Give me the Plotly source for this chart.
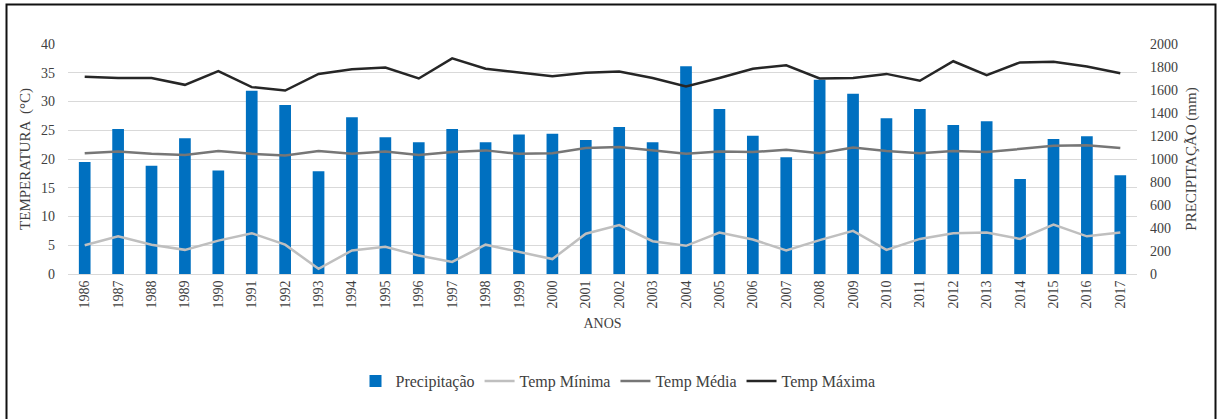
import plotly.graph_objects as go

anos = [str(a) for a in range(1986, 2018)]

precipitacao = [974, 1261, 942, 1180, 899, 1594, 1470, 893, 1363, 1189,
                1145, 1261, 1145, 1212, 1220, 1165, 1278, 1145, 1806, 1435,
                1203, 1015, 1690, 1568, 1354, 1435, 1296, 1328, 826, 1174,
                1197, 858]

temp_minima = [5.0, 6.55, 5.1, 4.2, 5.8, 7.1, 5.1, 0.9, 4.1, 4.75,
               3.2, 2.1, 5.1, 3.9, 2.6, 7.0, 8.5, 5.7, 4.9, 7.2,
               6.0, 4.1, 5.9, 7.5, 4.2, 6.1, 7.1, 7.2, 6.1, 8.6,
               6.55, 7.2]

temp_media = [21.0, 21.3, 20.9, 20.7, 21.4, 20.9, 20.6, 21.4, 20.9, 21.3,
              20.7, 21.2, 21.5, 20.9, 21.0, 21.9, 22.1, 21.5, 20.9, 21.3,
              21.2, 21.6, 21.0, 22.0, 21.4, 21.0, 21.4, 21.2, 21.8, 22.3,
              22.4, 21.9]

temp_maxima = [34.3, 34.1, 34.1, 32.9, 35.3, 32.5, 31.9, 34.8, 35.6, 35.9,
               34.0, 37.5, 35.7, 35.0, 34.4, 35.0, 35.2, 34.1, 32.6, 34.1,
               35.7, 36.3, 34.0, 34.1, 34.8, 33.6, 37.0, 34.6, 36.8, 36.9,
               36.1, 34.9]

FONT = "Liberation Serif"
TXT = "#404040"

fig = go.Figure()
fig.add_trace(go.Bar(x=anos, y=precipitacao, name="Precipitação",
                     marker=dict(color="#0070C0", line=dict(width=0)),
                     yaxis="y"))
fig.add_trace(go.Scatter(x=anos, y=temp_minima, name="Temp Mínima", mode="lines",
                         line=dict(color="#BFBFBF", width=2.5), yaxis="y2"))
fig.add_trace(go.Scatter(x=anos, y=temp_media, name="Temp Média", mode="lines",
                         line=dict(color="#767676", width=2.5), yaxis="y2"))
fig.add_trace(go.Scatter(x=anos, y=temp_maxima, name="Temp Máxima", mode="lines",
                         line=dict(color="#262626", width=2.5), yaxis="y2"))

# plot area: x 68..1137, y 44..274 in pixels
L, R, T, B = 68, 80, 44, 145
W, H = 1217 - L - R, 419 - T - B

def px_x(p):
    return (p - L) / W

def px_y(p):
    return (419 - B - p) / H

fig.update_layout(
    width=1217, height=419,
    margin=dict(l=L, r=R, t=T, b=B),
    paper_bgcolor="white", plot_bgcolor="white",
    font=dict(family=FONT, size=14, color=TXT),
    bargap=0.65,
    showlegend=True,
    legend=dict(orientation="h", x=px_x(618), xanchor="center", y=px_y(381), yanchor="middle",
                font=dict(family=FONT, size=16, color=TXT), traceorder="normal",
                itemwidth=30),
    xaxis=dict(type="category", tickangle=-90, showgrid=False, showline=True,
               linecolor="#D9D9D9", linewidth=1, ticks="",
               tickfont=dict(family=FONT, size=14, color=TXT),
               title=dict(text="ANOS", font=dict(family=FONT, size=14, color=TXT), standoff=10)),
    yaxis=dict(side="right", range=[0, 2000], dtick=200, showgrid=False,
               zeroline=False, ticks="", tickfont=dict(family=FONT, size=14, color=TXT),
               ticklabelstandoff=12,
               title=dict(text="PRECIPITAÇÃO (mm)", font=dict(family=FONT, size=15, color=TXT),
                          standoff=8)),
    yaxis2=dict(side="left", overlaying="y", range=[0, 40], dtick=5, showgrid=True,
                gridcolor="#D9D9D9", gridwidth=1, zeroline=False, ticks="",
                tickfont=dict(family=FONT, size=14, color=TXT), ticklabelstandoff=12,
                title=dict(text="TEMPERATURA  (°C)", font=dict(family=FONT, size=15, color=TXT),
                           standoff=6)),
    shapes=[dict(type="rect", xref="paper", yref="paper",
                 x0=px_x(6.5), x1=px_x(1215.5), y0=px_y(430), y1=px_y(4.5),
                 line=dict(color="#111111", width=2), fillcolor="rgba(0,0,0,0)",
                 layer="above")],
)

fig.write_html("out.html", config={"displayModeBar": False},
               post_script="document.body.style.margin='0';document.body.style.overflow='hidden';")
